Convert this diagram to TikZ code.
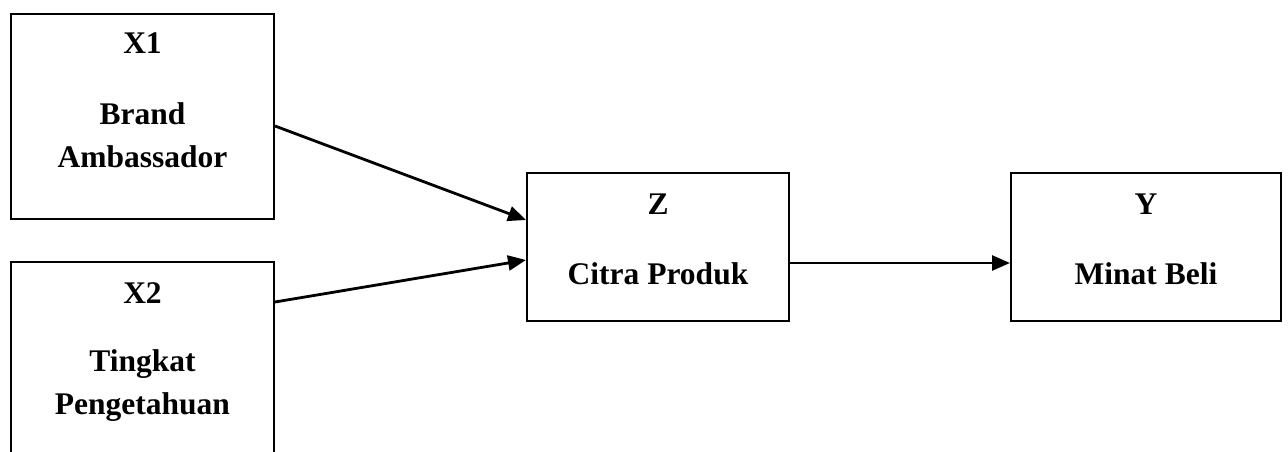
\documentclass[tikz,border=0pt]{standalone}
\usepackage{fontspec}
\setmainfont{Liberation Serif}
\usetikzlibrary{arrows.meta}
\tikzset{
  box/.style={draw=black, line width=2pt, fill=white, inner sep=0pt},
  lbl/.style={anchor=base, inner sep=0pt, font=\fontsize{31.5}{36}\selectfont\bfseries},
  link/.style={line width=2.8pt, -{Triangle[length=18pt,width=15pt]}},
}
\begin{document}
\begin{tikzpicture}[x=1pt,y=-1pt]
  \useasboundingbox (0,0) rectangle (1288,452);
  \clip (0,0) rectangle (1288,452);
  \fill[white] (0,0) rectangle (1288,452);

  % variable boxes
  \node[box, minimum width=263pt, minimum height=205pt] (x1) at (142.5,116.5) {};
  \node[box, minimum width=263pt, minimum height=210pt] (x2) at (142.5,367) {};
  \node[box, minimum width=262pt, minimum height=148pt] (z)  at (658,247) {};
  \node[box, minimum width=270pt, minimum height=148pt] (y)  at (1146,247) {};

  % labels
  \node[lbl] (x1a) at (142.5,54) {X1};
  \node[lbl] (x1b) at (142.5,124) {Brand};
  \node[lbl] (x1c) at (142.5,167) {Ambassador};
  \node[lbl] (x2a) at (142.5,303) {X2};
  \node[lbl] (x2b) at (142.5,371) {Tingkat};
  \node[lbl] (x2c) at (142.5,414) {Pengetahuan};
  \node[lbl] (za)  at (658,214) {Z};
  \node[lbl] (zb)  at (658,284) {Citra Produk};
  \node[lbl] (ya)  at (1146,214) {Y};
  \node[lbl] (yb)  at (1146,284) {Minat Beli};

  % paths
  \draw[link] ([yshift=-9.5pt]x1.east) -- ([yshift=27pt]z.west);
  \draw[link] ([yshift=65pt]x2.east) -- ([yshift=-13pt]z.west);
  \draw[link] ([yshift=-16pt]z.east) -- ([yshift=-16pt]y.west);
\end{tikzpicture}
\end{document}
